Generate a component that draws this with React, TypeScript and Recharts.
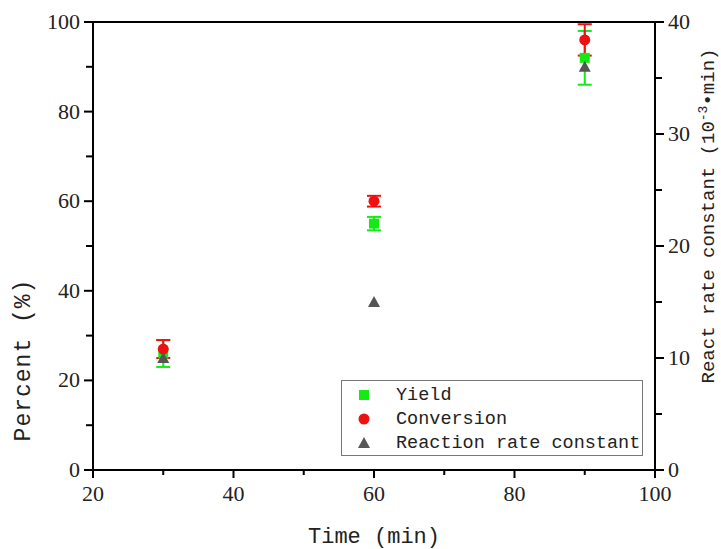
import React from 'react';
import {
  ComposedChart,
  Scatter,
  XAxis,
  YAxis,
  ErrorBar,
  ReferenceLine,
} from 'recharts';

// reaction time (min)
const times = [30, 60, 90];
// yield and conversion in %, with their error bars
const yieldPct = [26, 55, 92];
const yieldErr = [3, 1.5, 6];
const conversionPct = [27, 60, 96];
const conversionErr = [2, 1.2, 3.5];
// reaction rate constant (10^-3 min^-1), right axis
const rateConst = [10, 15, 36];

const xTicks = [20, 30, 40, 50, 60, 70, 80, 90, 100];
const leftTicks = [0, 10, 20, 30, 40, 50, 60, 70, 80, 90, 100];
const rightTicks = [0, 5, 10, 15, 20, 25, 30, 35, 40];

const GREEN = '#14ea14';
const RED = '#ee1111';
const GRAY = '#555555';
const TICK_FONT = 'Times New Roman, Liberation Serif, DejaVu Serif, serif';
const MONO = 'Liberation Mono, Courier New, DejaVu Sans Mono, monospace';

const yieldData = times.map((t, i) => ({ x: t, y: yieldPct[i], err: yieldErr[i] }));
const conversionData = times.map((t, i) => ({ x: t, y: conversionPct[i], err: conversionErr[i] }));
const rateData = times.map((t, i) => ({ x: t, y: rateConst[i] }));

const SquareDot = (p: any) => (
  <rect x={p.cx - 5} y={p.cy - 5} width={10} height={10} fill={GREEN} />
);
const CircleDot = (p: any) => <circle cx={p.cx} cy={p.cy} r={5.5} fill={RED} />;
const TriangleDot = (p: any) => (
  <polygon
    points={`${p.cx},${p.cy - 6} ${p.cx - 6},${p.cy + 5} ${p.cx + 6},${p.cy + 5}`}
    fill={GRAY}
  />
);

const XTick = (props: any) => {
  const { x, y, payload } = props;
  const major = payload.value % 20 === 0;
  return (
    <g>
      <line x1={x} x2={x} y1={y} y2={y + (major ? 8 : 5)} stroke="#000" strokeWidth={2} />
      {major && (
        <text x={x} y={y + 31} textAnchor="middle" fontFamily={TICK_FONT} fontSize={22} fill="#222">
          {payload.value}
        </text>
      )}
    </g>
  );
};

const LeftTick = (props: any) => {
  const { x, y, payload } = props;
  const major = payload.value % 20 === 0;
  return (
    <g>
      <line x1={x - (major ? 9 : 7)} x2={x} y1={y} y2={y} stroke="#000" strokeWidth={2} />
      {major && (
        <text x={x - 13} y={y + 7} textAnchor="end" fontFamily={TICK_FONT} fontSize={22} fill="#222">
          {payload.value}
        </text>
      )}
    </g>
  );
};

const RightTick = (props: any) => {
  const { x, y, payload } = props;
  const major = payload.value % 10 === 0;
  return (
    <g>
      <line x1={x} x2={x + (major ? 9 : 7)} y1={y} y2={y} stroke="#000" strokeWidth={2} />
      {major && (
        <text x={x + 13} y={y + 7} textAnchor="start" fontFamily={TICK_FONT} fontSize={22} fill="#222">
          {payload.value}
        </text>
      )}
    </g>
  );
};

const XTitle = (props: any) => {
  const vb = props.viewBox;
  return (
    <text x={vb.x + vb.width / 2} y={vb.y + 73} textAnchor="middle" fontFamily={MONO} fontSize={22} fill="#222">
      Time (min)
    </text>
  );
};

const LeftTitle = (props: any) => {
  const vb = props.viewBox;
  const cx = 30;
  const cy = vb.y + 338;
  return (
    <text
      x={cx}
      y={cy}
      transform={`rotate(-90, ${cx}, ${cy})`}
      textAnchor="middle"
      fontFamily={MONO}
      fontSize={23}
      letterSpacing={1}
      fill="#222"
    >
      Percent (%)
    </text>
  );
};

const RightTitle = (props: any) => {
  const vb = props.viewBox;
  const cx = 714;
  const cy = vb.y + 194;
  return (
    <text
      x={cx}
      y={cy}
      transform={`rotate(-90, ${cx}, ${cy})`}
      textAnchor="middle"
      fontFamily={MONO}
      fontSize={19}
      fill="#222"
    >
      React rate constant (10
      <tspan dy={-7} fontSize={13}>-3</tspan>
      <tspan dy={7}>•min)</tspan>
    </text>
  );
};

const legendItems = [
  { name: 'Yield', marker: <rect x={3} y={3} width={10} height={10} fill={GREEN} /> },
  { name: 'Conversion', marker: <circle cx={8} cy={8} r={5.5} fill={RED} /> },
  { name: 'Reaction rate constant', marker: <polygon points="8,2 2,13 14,13" fill={GRAY} /> },
];

export default function App() {
  return (
    <div style={{ position: 'absolute', left: 0, top: 0, width: 721, height: 549, background: '#fff' }}>
      <ComposedChart
        width={721}
        height={549}
        margin={{ top: 22, right: 16, bottom: 19, left: 33 }}
      >
        <XAxis
          dataKey="x"
          type="number"
          domain={[20, 100]}
          ticks={xTicks}
          interval={0}
          tickSize={0}
          tickMargin={0}
          tick={<XTick />}
          tickLine={false}
          axisLine={{ stroke: '#000', strokeWidth: 2 }}
          height={60}
          label={<XTitle />}
        />
        <YAxis
          yAxisId="left"
          dataKey="y"
          type="number"
          domain={[0, 100]}
          ticks={leftTicks}
          interval={0}
          tickSize={0}
          tickMargin={0}
          tick={<LeftTick />}
          tickLine={false}
          axisLine={{ stroke: '#000', strokeWidth: 2 }}
          width={60}
          label={<LeftTitle />}
        />
        <YAxis
          yAxisId="right"
          orientation="right"
          dataKey="y"
          type="number"
          domain={[0, 40]}
          ticks={rightTicks}
          interval={0}
          tickSize={0}
          tickMargin={0}
          tick={<RightTick />}
          tickLine={false}
          axisLine={{ stroke: '#000', strokeWidth: 2 }}
          width={50}
          label={<RightTitle />}
        />
        <ReferenceLine yAxisId="left" y={100} stroke="#000" strokeWidth={2} />

        <Scatter
          yAxisId="left"
          data={yieldData}
          shape={<SquareDot />}
          isAnimationActive={false}
        >
          <ErrorBar dataKey="err" direction="y" width={7} stroke={GREEN} strokeWidth={2} isAnimationActive={false} />
        </Scatter>
        <Scatter
          yAxisId="left"
          data={conversionData}
          shape={<CircleDot />}
          isAnimationActive={false}
        >
          <ErrorBar dataKey="err" direction="y" width={7} stroke={RED} strokeWidth={2} isAnimationActive={false} />
        </Scatter>
        <Scatter
          yAxisId="right"
          data={rateData}
          shape={<TriangleDot />}
          isAnimationActive={false}
        />
      </ComposedChart>

      <div
        style={{
          position: 'absolute',
          left: 341,
          top: 380,
          width: 302,
          height: 76,
          border: '1px solid #777',
          background: '#fff',
          fontFamily: MONO,
          fontSize: 18.5,
          color: '#222',
          paddingTop: 2,
          boxSizing: 'border-box',
        }}
      >
        {legendItems.map((item) => (
          <div key={item.name} style={{ display: 'flex', alignItems: 'center', height: 24 }}>
            <svg width={16} height={16} style={{ marginLeft: 14, marginRight: 24 }}>
              {item.marker}
            </svg>
            <span>{item.name}</span>
          </div>
        ))}
      </div>
    </div>
  );
}
